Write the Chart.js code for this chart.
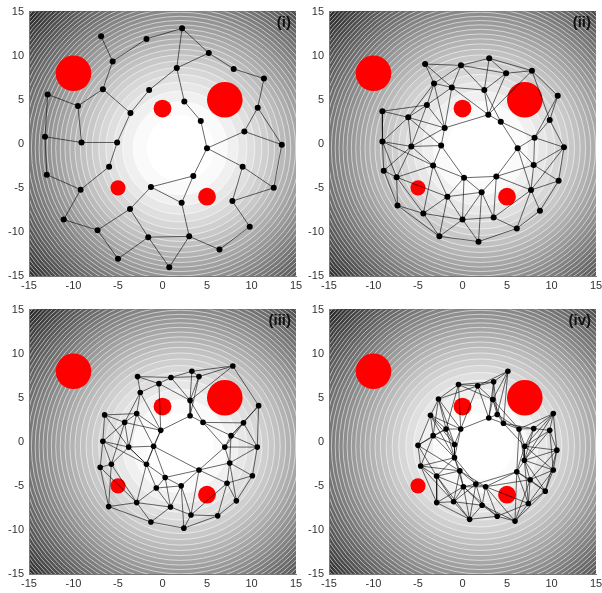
<!DOCTYPE html>
<html>
<head>
<meta charset="utf-8">
<script src="https://cdn.jsdelivr.net/npm/chart.js@4/dist/chart.umd.min.js"></script>
<style>
    html, body { margin: 0; padding: 0; background: #fff; overflow: hidden; }
    #wrap { position: relative; width: 602px; height: 593px; }
    canvas { position: absolute; }
</style>
</head>
<body>
<div id="wrap">
    <canvas id="panel1" width="310" height="300" style="left:0;top:0"></canvas>
    <canvas id="panel2" width="310" height="300" style="left:300px;top:0"></canvas>
    <canvas id="panel3" width="310" height="300" style="left:0;top:298px"></canvas>
    <canvas id="panel4" width="310" height="300" style="left:300px;top:298px"></canvas>
</div>
<script>
// ============================================
// DATA
// ============================================

const tickValues = [-15, -10, -5, 0, 5, 10, 15];
const panelLabels = ['(i)', '(ii)', '(iii)', '(iv)'];

// red obstacles (same in every panel), radius in data units
const circleX = [-10, 7, 0, 5, -5];
const circleY = [8, 5, 4, -6, -5];
const circleR = [2, 2, 1, 1, 0.85];

// centre of the grey potential field
const fieldCenter = [2, -0.5];

// panel (i)
const nodesX1 = [-6.9, -1.8, 2.2, 5.2, 8.0, 11.4, -5.6, -6.7, -1.5, 1.6,
    2.45, 10.7, 4.3, 9.2, 13.4, 5.0, -12.9, -9.5, -3.6, -13.2,
    -9.1, -5.1, -6.0, -13.0, -9.2, -1.3, -3.65, -11.1, -7.3, -1.6,
    -5.0, 3.46, 9.0, 12.5, 2.15, 7.85, 9.8, 3.0, 6.4, 0.76];
const nodesY1 = [12.2, 11.9, 13.1, 10.3, 8.5, 7.4, 9.35, 6.2, 6.1, 8.6,
    4.8, 4.1, 2.6, 1.4, -0.1, -0.5, 5.6, 4.3, 3.5, 0.8,
    0.15, 0.15, -2.6, -3.5, -5.2, -4.9, -7.4, -8.6, -9.8, -10.6,
    -13.05, -3.65, -2.6, -5.0, -6.7, -6.5, -9.4, -10.5, -12.0, -14.0];
const edges1 = [[0,6],[1,6],[1,2],[2,9],[2,3],[3,9],[3,4],[4,5],[6,7],[7,17],
    [7,18],[16,17],[16,19],[19,20],[17,20],[20,21],[18,21],[18,8],[8,9],[9,10],
    [10,12],[12,15],[5,11],[11,13],[11,14],[13,14],[13,15],[21,22],[22,24],[19,23],
    [23,24],[24,27],[27,28],[28,26],[26,25],[26,29],[28,30],[30,29],[25,31],[25,34],
    [15,31],[15,32],[32,33],[14,33],[32,35],[35,33],[35,36],[36,38],[38,37],[37,39],
    [34,37],[31,34],[29,37],[29,39]];

// panel (ii)
const nodesX2 = [-4.2, -0.17, 3.0, -3.2, -1.2, 4.9, 7.8, 2.45, -4.0, -9.0,
    -6.1, -2.0, 10.7, 2.9, 4.3, 9.8, -9.0, -5.75, -2.4, 8.1,
    6.2, 11.4, -3.3, -8.85, -7.4, 0.17, 3.8, 8.0, 10.8, -1.7,
    2.15, 7.7, -7.3, -4.4, 8.7, 0.0, 3.5, 6.1, -2.6, 1.8];
const nodesY2 = [9.05, 8.9, 9.7, 6.85, 6.4, 8.0, 8.3, 6.1, 4.4, 3.7,
    3.0, 1.8, 5.45, 3.3, 2.5, 2.7, 0.25, -0.3, -0.2, 0.7,
    -0.5, -0.4, -2.45, -3.05, -3.8, -3.85, -3.7, -2.4, -4.2, -6.0,
    -5.5, -5.25, -7.0, -7.9, -7.6, -8.6, -8.35, -9.6, -10.5, -11.1];
const edges2 = [[0,1],[0,3],[0,4],[1,3],[3,4],[1,4],[3,8],[4,8],[8,10],[8,11],
    [9,10],[9,16],[10,16],[10,17],[10,11],[10,18],[11,18],[11,17],[16,17],[17,18],
    [4,11],[1,2],[2,5],[5,6],[1,7],[2,7],[4,7],[5,7],[7,13],[7,14],
    [6,12],[12,15],[15,19],[15,21],[19,21],[19,20],[14,20],[14,19],[13,14],[11,13],
    [18,22],[17,22],[16,23],[17,23],[17,24],[23,24],[22,24],[23,32],[24,32],[22,29],
    [24,29],[32,33],[29,33],[33,38],[24,33],[29,35],[38,39],[20,27],[21,27],[21,28],
    [27,28],[20,26],[27,31],[26,27],[25,26],[25,30],[26,30],[26,36],[26,31],[31,28],
    [31,34],[28,34],[31,36],[30,35],[30,36],[35,36],[34,37],[36,37],[37,39],[35,39],
    [25,35],[22,25],[18,25],[3,10],[8,17],[16,24],[22,33],[33,35],[29,38],[29,30],
    [29,25],[38,35],[30,39],[12,19],[6,15],[19,27],[31,37],[1,5],[2,6],[5,13],
    [3,11],[4,13],[9,8],[16,22],[32,38],[21,31],[6,13],[20,31]];

// panel (iii)
const nodesX3 = [7.9, -2.8, 0.95, 3.3, 4.1, -0.4, -2.5, 3.1, 3.1, 10.8,
    -6.5, -2.9, -4.25, 4.55, 9.1, -0.2, 7.7, -6.7, -3.8, -1.0,
    7.0, 10.65, -7.0, -5.75, -1.8, 7.55, 4.1, 10.1, 0.3, -0.7,
    2.1, 7.25, -2.9, 0.9, 8.3, -6.05, 3.2, 6.2, -1.3, 2.4];
const nodesY3 = [8.6, 7.4, 7.3, 8.0, 7.4, 6.6, 5.6, 4.7, 2.95, 4.1,
    3.05, 3.2, 2.2, 2.2, 2.15, 1.3, 0.7, 0.06, -0.6, -0.5,
    -0.6, -0.6, -2.9, -2.55, -2.55, -2.4, -3.2, -3.85, -4.05, -5.25,
    -5.0, -4.7, -6.9, -7.4, -6.7, -7.35, -8.3, -8.4, -9.1, -9.8];
const edges3 = [[0,3],[0,4],[1,2],[2,3],[3,4],[2,4],[1,5],[5,2],[1,6],[6,5],
    [5,7],[4,7],[3,7],[7,8],[6,11],[6,15],[10,11],[10,12],[11,12],[11,15],
    [10,17],[12,17],[12,18],[17,18],[15,19],[18,19],[8,15],[8,13],[13,14],[9,14],
    [14,16],[9,21],[14,21],[16,20],[20,21],[20,25],[21,27],[25,27],[25,31],[27,34],
    [31,34],[34,37],[26,30],[19,26],[26,28],[20,26],[17,22],[17,23],[22,23],[18,23],
    [18,24],[19,24],[24,28],[24,29],[28,29],[28,30],[29,30],[29,32],[29,33],[30,33],
    [30,36],[22,35],[35,32],[32,38],[35,38],[38,39],[36,39],[36,37],[32,33],[33,36],
    [23,32],[13,16],[16,21],[25,26],[31,37],[11,18],[12,15],[9,16],[7,13],[14,20],
    [27,31],[23,35],[2,7],[6,12],[11,19],[12,23],[15,24],[19,28],[22,32],[24,32],
    [28,33],[30,39],[26,31],[25,34],[31,36],[13,20],[16,25],[4,8],[0,7],[0,9],
    [10,18],[17,24],[33,38],[37,39],[26,36],[21,25],[5,15],[18,24]];

// panel (iv)
const nodesX4 = [5.1, -0.45, 1.7, 3.5, -2.7, 3.4, -3.6, 2.95, 3.9, 10.2,
    4.6, -1.85, -0.2, 6.35, 8.0, 9.8, -3.3, -0.9, -5.0, 7.0,
    10.6, -0.9, 6.95, -4.7, -0.3, 10.2, 6.1, -2.9, 7.6, 1.5,
    0.1, 2.6, 9.3, -2.9, -1.0, 2.2, 7.4, 0.8, 3.9, 5.9];
const nodesY4 = [8.0, 6.5, 6.35, 6.8, 4.85, 4.8, 3.0, 2.7, 3.1, 3.2,
    2.1, 1.45, 1.45, 1.45, 1.5, 1.3, 0.7, -0.3, -0.4, -0.5,
    -0.95, -1.8, -2.1, -2.75, -3.3, -3.2, -3.4, -3.9, -4.3, -4.8,
    -5.1, -5.1, -5.6, -6.9, -6.8, -7.2, -7.0, -8.8, -8.45, -9.0];
const edges4 = [[0,3],[0,2],[0,5],[0,8],[1,2],[1,3],[1,4],[2,3],[2,5],[3,5],
    [4,6],[4,2],[4,11],[4,12],[5,7],[5,8],[7,8],[8,10],[7,12],[8,13],
    [10,13],[10,14],[9,15],[9,14],[9,20],[13,14],[14,15],[15,20],[13,19],[14,19],
    [19,20],[15,19],[15,22],[19,22],[20,25],[22,25],[22,26],[19,26],[20,22],[25,28],
    [25,32],[26,28],[28,32],[22,28],[28,36],[32,36],[32,39],[36,39],[26,31],[26,29],
    [28,31],[29,31],[29,30],[30,31],[24,29],[24,30],[21,24],[17,21],[12,17],[11,17],
    [11,12],[6,11],[6,16],[16,11],[16,17],[6,18],[18,16],[18,23],[16,23],[16,21],
    [23,27],[27,21],[27,24],[23,33],[27,33],[27,34],[33,34],[34,30],[33,37],[34,37],
    [30,37],[35,37],[35,38],[31,35],[29,35],[30,35],[37,38],[38,39],[36,38],[31,38],
    [31,39],[24,31],[18,27],[6,12],[1,11],[21,30],[26,32],[26,36],[10,7],[5,10],
    [6,17],[23,21],[23,24],[18,11],[4,16],[9,13],[13,22],[19,25],[22,32],[28,39],
    [36,31],[24,34],[21,29],[12,21],[1,5],[3,8],[2,7],[27,30],[33,30],[34,35],
    [29,37],[4,17],[6,21],[11,21],[23,34],[27,37],[29,34],[30,38],[35,39],[22,36],
    [26,39],[25,36],[20,32],[9,19],[9,22],[14,22],[13,26],[10,19],[5,13],[3,7],
    [2,12],[1,12],[18,24],[0,10],[15,25],[20,28]];

const panels = [
    { id: 'panel1', label: panelLabels[0], xs: nodesX1, ys: nodesY1, edges: edges1, dot: 3 },
    { id: 'panel2', label: panelLabels[1], xs: nodesX2, ys: nodesY2, edges: edges2, dot: 3 },
    { id: 'panel3', label: panelLabels[2], xs: nodesX3, ys: nodesY3, edges: edges3, dot: 2.8 },
    { id: 'panel4', label: panelLabels[3], xs: nodesX4, ys: nodesY4, edges: edges4, dot: 2.8 }
];

// ============================================
// PLUGINS
// ============================================

const FONT = "'Liberation Sans', Arial, sans-serif";

// filled contour rings of a quadratic potential around fieldCenter
const contourField = {
    id: 'contourField',
    beforeDraw(chart) {
        const { ctx, chartArea: a } = chart;
        const xs = chart.scales.x, ys = chart.scales.y;
        const kx = xs.getPixelForValue(1) - xs.getPixelForValue(0);
        const ky = ys.getPixelForValue(0) - ys.getPixelForValue(1);
        const cx = xs.getPixelForValue(fieldCenter[0]);
        const cy = ys.getPixelForValue(fieldCenter[1]);
        const step = 14, fmax = 530;
        const n = Math.ceil(fmax / step);
        const shade = j => {
            const rm = Math.sqrt((j + 0.5) * step);
            const t = Math.max(0, Math.min(1, (rm - 3.5) / 19.2));
            const v = Math.round(255 - 215 * Math.pow(t, 1.3));
            return `rgb(${v},${v},${v})`;
        };

        ctx.save();
        ctx.beginPath();
        ctx.rect(a.left, a.top, a.width, a.height);
        ctx.clip();
        ctx.fillStyle = shade(n);
        ctx.fillRect(a.left, a.top, a.width, a.height);
        for (let j = n - 1; j >= 0; j--) {
            const r = Math.sqrt((j + 1) * step);
            ctx.beginPath();
            ctx.ellipse(cx, cy, r * kx, r * ky, 0, 0, Math.PI * 2);
            ctx.fillStyle = shade(j);
            ctx.fill();
        }
        ctx.strokeStyle = 'rgba(255,255,255,0.7)';
        ctx.lineWidth = 0.8;
        for (let j = 1; j <= n + 4; j++) {
            const r = Math.sqrt(j * step);
            ctx.beginPath();
            ctx.ellipse(cx, cy, r * kx, r * ky, 0, 0, Math.PI * 2);
            ctx.stroke();
        }
        ctx.restore();
    }
};

const panelLabel = {
    id: 'panelLabel',
    afterDatasetsDraw(chart, args, opts) {
        const { ctx, chartArea: a } = chart;
        ctx.save();
        ctx.font = `bold 15px ${FONT}`;
        ctx.fillStyle = '#111';
        ctx.textAlign = 'right';
        ctx.textBaseline = 'top';
        ctx.fillText(opts.text, a.right - 5, a.top + 4);
        ctx.restore();
    }
};

// ============================================
// CHARTS
// ============================================

function pxPerUnit(chart) {
    const s = chart.scales.x;
    return s ? Math.abs(s.getPixelForValue(1) - s.getPixelForValue(0)) : 0;
}

function edgePoints(p) {
    const out = [];
    p.edges.forEach(([a, b]) => {
        out.push({ x: p.xs[a], y: p.ys[a] });
        out.push({ x: p.xs[b], y: p.ys[b] });
        out.push({ x: NaN, y: NaN });
    });
    return out;
}

function axis(extra) {
    return Object.assign({
        type: 'linear',
        min: -15,
        max: 15,
        afterBuildTicks: s => { s.ticks = tickValues.map(v => ({ value: v })); },
        grid: { display: false, drawTicks: false },
        border: { display: true, color: '#777', width: 1 }
    }, extra);
}

panels.forEach(p => {
    new Chart(document.getElementById(p.id), {
        type: 'scatter',
        data: {
            datasets: [
                {
                    label: 'nodes',
                    data: p.xs.map((x, i) => ({ x, y: p.ys[i] })),
                    pointRadius: p.dot,
                    pointBackgroundColor: '#000',
                    pointBorderWidth: 0,
                    order: 0
                },
                {
                    label: 'links',
                    data: edgePoints(p),
                    showLine: true,
                    spanGaps: false,
                    borderColor: 'rgba(0,0,0,0.85)',
                    borderWidth: 0.7,
                    pointRadius: 0,
                    order: 1
                },
                {
                    label: 'obstacles',
                    data: circleX.map((x, i) => ({ x, y: circleY[i] })),
                    pointRadius: ctx => circleR[ctx.dataIndex] * pxPerUnit(ctx.chart),
                    pointBackgroundColor: '#ff0000',
                    pointBorderWidth: 0,
                    order: 2
                }
            ]
        },
        options: {
            responsive: false,
            animation: false,
            events: [],
            layout: { padding: { left: 0, top: 9, right: 14, bottom: 0 } },
            scales: {
                x: axis({
                    position: 'bottom',
                    afterFit: s => { s.height = 24; },
                    ticks: { color: '#333', font: { family: FONT, size: 11 }, padding: 3, autoSkip: false, maxRotation: 0 }
                }),
                y: axis({
                    position: 'left',
                    afterFit: s => { s.width = 29; },
                    ticks: { color: '#333', font: { family: FONT, size: 11 }, padding: 5, autoSkip: false }
                })
            },
            plugins: {
                legend: { display: false },
                tooltip: { enabled: false },
                panelLabel: { text: p.label }
            }
        },
        plugins: [contourField, panelLabel]
    });
});
</script>
</body>
</html>
